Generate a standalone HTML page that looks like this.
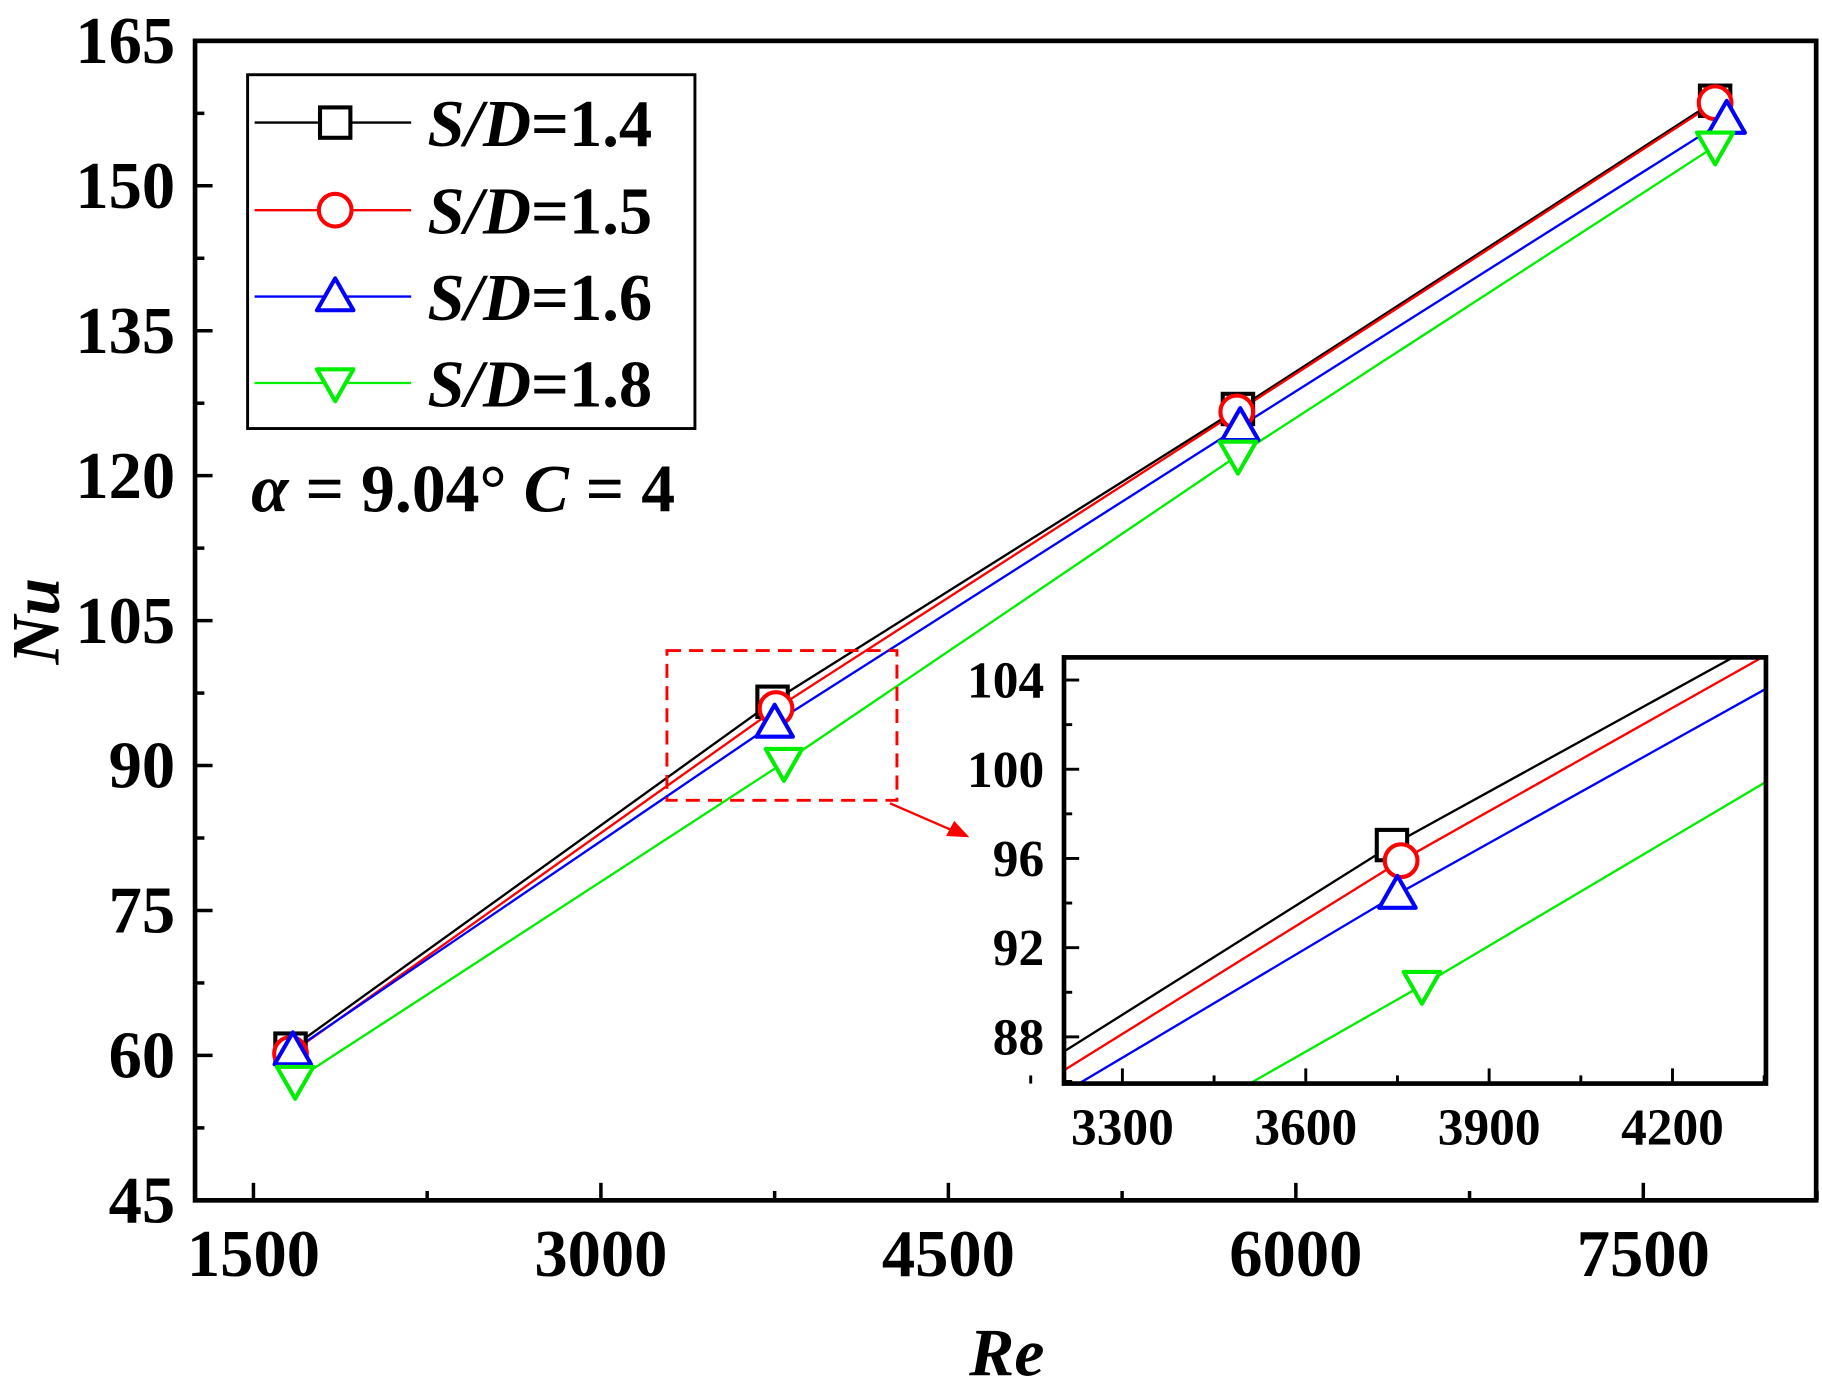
<!DOCTYPE html>
<html><head><meta charset="utf-8"><style>
html,body{margin:0;padding:0;background:#fff;width:1822px;height:1386px;overflow:hidden;}
svg{display:block;}
text{font-family:"Liberation Serif","Times New Roman",serif;font-weight:bold;fill:#000;}
</style></head><body>
<svg id="chart" width="1822" height="1386" viewBox="0 0 1560 1187" preserveAspectRatio="none" xmlns="http://www.w3.org/2000/svg">
<defs><clipPath id="insetClip"><rect x="911" y="563" width="601" height="365"/></clipPath></defs>
<g id="main"></g>
<g id="inset"></g>
<g id="legend"></g>
</svg>
<script>
const seriesNames = ["S/D=1.4","S/D=1.5","S/D=1.6","S/D=1.8"];
const seriesColors = ["#000000","#ff0000","#0000ff","#00ee00"];
const seriesMarkers = ["square","circle","triangle","invtriangle"];
const reS14 = [1660, 3741, 5750, 7810];
const nuS14 = [60.7, 96.6, 126.9, 158.8];
const reS15 = [1660, 3756, 5745, 7810];
const nuS15 = [60.2, 95.9, 126.6, 158.6];
const reS16 = [1670, 3750, 5760, 7860];
const nuS16 = [60.5, 94.4, 125.1, 156.9];
const reS18 = [1680, 3790, 5750, 7810];
const nuS18 = [57.4, 90.3, 122.1, 154.1];
const mainXTicks = [1500, 3000, 4500, 6000, 7500];
const mainYTicks = [45, 60, 75, 90, 105, 120, 135, 150, 165];
const insetXTicks = [3300, 3600, 3900, 4200];
const insetYTicks = [88, 92, 96, 100, 104];

const NS = "http://www.w3.org/2000/svg";
function mk(parent, tag, attrs){const e=document.createElementNS(NS,tag);for(const k in attrs)e.setAttribute(k,attrs[k]);parent.appendChild(e);return e;}
const allRe=[reS14,reS15,reS16,reS18], allNu=[nuS14,nuS15,nuS16,nuS18];

const mx=v=>217+(v-1500)*(297.5/1500);
const my=v=>1028-(v-45)*(993/120);
const ix=v=>961+(v-3300)*(157/300);
const iy=v=>888-(v-88)*(19.1);

function marker(g,type,cx,cy,s,color,sw){
  let e;
  if(type==="square") e=mk(g,"rect",{x:cx-s/2,y:cy-s/2,width:s,height:s,fill:"#fff",stroke:color,"stroke-width":sw});
  else if(type==="circle") e=mk(g,"circle",{cx:cx,cy:cy,r:s/2+1,fill:"#fff",stroke:color,"stroke-width":sw});
  else if(type==="triangle") e=mk(g,"polygon",{points:`${cx},${cy-s*0.6} ${cx-s*0.6},${cy+s*0.45} ${cx+s*0.6},${cy+s*0.45}`,fill:"#fff",stroke:color,"stroke-width":sw,"stroke-linejoin":"round"});
  else e=mk(g,"polygon",{points:`${cx},${cy+s*0.6} ${cx-s*0.6},${cy-s*0.45} ${cx+s*0.6},${cy-s*0.45}`,fill:"#fff",stroke:color,"stroke-width":sw,"stroke-linejoin":"round"});
  return e;
}

const main=document.getElementById("main");
for(let i=0;i<4;i++){
  const pts=allRe[i].map((r,j)=>mx(r)+","+my(allNu[i][j])).join(" ");
  const pl=mk(main,"polyline",{points:pts,fill:"none",stroke:seriesColors[i],"stroke-width":2});
  
  
}
for(let i=0;i<4;i++){
  allRe[i].forEach((r,j)=>{
    const m=marker(main,seriesMarkers[i],mx(r),my(allNu[i][j]),26,seriesColors[i],3.5);
    
    
  });
}
const fr=mk(main,"rect",{x:167,y:35,width:1388,height:993,fill:"none",stroke:"#000","stroke-width":4});


mainXTicks.forEach(v=>{
  mk(main,"line",{x1:mx(v),x2:mx(v),y1:1028,y2:1013,stroke:"#000","stroke-width":3});
  mk(main,"line",{x1:mx(v+750),x2:mx(v+750),y1:1028,y2:1020,stroke:"#000","stroke-width":3});
  const t=mk(main,"text",{x:mx(v),y:1093,"text-anchor":"middle","font-size":57});
  t.textContent=v;
  
  
});
mainYTicks.forEach(v=>{
  mk(main,"line",{x1:167,x2:182,y1:my(v),y2:my(v),stroke:"#000","stroke-width":3});
  if(v<165) mk(main,"line",{x1:167,x2:175,y1:my(v+7.5),y2:my(v+7.5),stroke:"#000","stroke-width":3});
  const t=mk(main,"text",{x:150,y:my(v)+19,"text-anchor":"end","font-size":57});
  t.textContent=v;
  
  
});
let xt=mk(main,"text",{x:862,y:1178,"text-anchor":"middle","font-size":58,"font-style":"italic"});xt.textContent="Re";

let yt=mk(main,"text",{x:0,y:0,"text-anchor":"middle","font-size":58,"font-style":"italic",transform:"translate(50,532) rotate(-90)"});yt.textContent="Nu";

let an=mk(main,"text",{x:215,y:438,"font-size":58});
an.innerHTML='<tspan font-style="italic">α</tspan> = 9.04° <tspan font-style="italic">C</tspan> = 4';

let zb=mk(main,"rect",{x:mx(3285),y:my(101.9),width:mx(4278)-mx(3285),height:my(86.4)-my(101.9),fill:"none",stroke:"#ff0000","stroke-width":2.5,"stroke-dasharray":"12,7"});

mk(main,"line",{x1:762,y1:688,x2:815,y2:711,stroke:"#ff0000","stroke-width":2});
mk(main,"polygon",{points:"830,717 810,716 817,703",fill:"#ff0000"});

const inset=document.getElementById("inset");
mk(inset,"rect",{x:911,y:563,width:601,height:365,fill:"#fff"});
const ic=mk(inset,"g",{"clip-path":"url(#insetClip)"});
for(let i=0;i<4;i++){
  const pts=allRe[i].map((r,j)=>ix(r)+","+iy(allNu[i][j])).join(" ");
  const pl=mk(ic,"polyline",{points:pts,fill:"none",stroke:seriesColors[i],"stroke-width":2});
  
  
}
for(let i=0;i<4;i++){
  allRe[i].forEach((r,j)=>{
    const m=marker(ic,seriesMarkers[i],ix(r),iy(allNu[i][j]),26,seriesColors[i],3.5);
    
    
  });
}
mk(inset,"rect",{x:911,y:563,width:601,height:365,fill:"none",stroke:"#000","stroke-width":4});
insetXTicks.forEach(v=>{
  mk(inset,"line",{x1:ix(v),x2:ix(v),y1:928,y2:915,stroke:"#000","stroke-width":2.5});
  mk(inset,"line",{x1:ix(v+150),x2:ix(v+150),y1:928,y2:921,stroke:"#000","stroke-width":2.5});
  const t=mk(inset,"text",{x:ix(v),y:980,"text-anchor":"middle","font-size":44});
  t.textContent=v;
  
  
});
mk(inset,"line",{x1:ix(3150),x2:ix(3150),y1:928,y2:921,stroke:"#000","stroke-width":2.5});
insetYTicks.forEach(v=>{
  mk(inset,"line",{x1:911,x2:924,y1:iy(v),y2:iy(v),stroke:"#000","stroke-width":2.5});
  if(v<104) mk(inset,"line",{x1:911,x2:918,y1:iy(v+2),y2:iy(v+2),stroke:"#000","stroke-width":2.5});
  const t=mk(inset,"text",{x:894,y:iy(v)+15,"text-anchor":"end","font-size":44});
  t.textContent=v;
  
  
});
mk(inset,"line",{x1:911,x2:918,y1:iy(86),y2:iy(86),stroke:"#000","stroke-width":2.5});

const lg=document.getElementById("legend");
mk(lg,"rect",{x:212,y:64,width:383,height:303,fill:"#fff",stroke:"#000","stroke-width":2.5});
const ly=[105,180,254,328];
for(let i=0;i<4;i++){
  const g=mk(lg,"g",{});
  
  
  mk(g,"line",{x1:218,x2:352,y1:ly[i],y2:ly[i],stroke:seriesColors[i],"stroke-width":2});
  marker(g,seriesMarkers[i],287,ly[i],26,seriesColors[i],3.5);
  const t=mk(g,"text",{x:366,y:ly[i]+20,"font-size":57});
  t.innerHTML='<tspan font-style="italic">S/D</tspan>='+seriesNames[i].split("=")[1];
}
</script>
</body></html>
